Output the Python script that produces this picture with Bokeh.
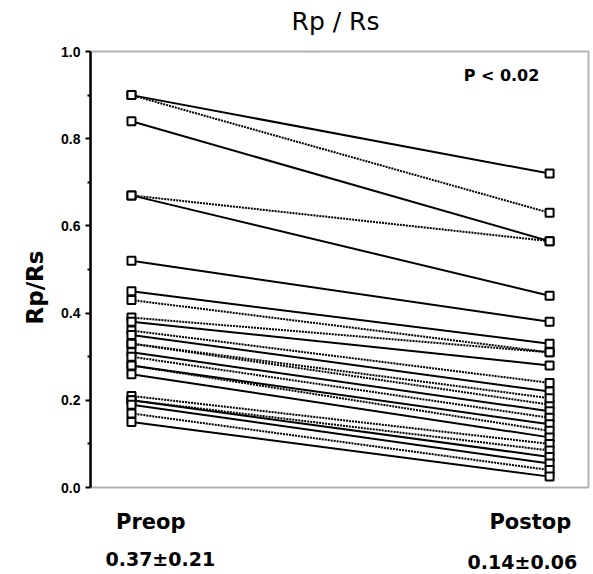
from bokeh.plotting import figure
from bokeh.models import Label, FixedTicker, ColumnDataSource, Range1d, BoxAnnotation
from bokeh.embed import file_html
from bokeh.resources import INLINE

# Paired values (Preop -> Postop)
pre = [0.90, 0.90, 0.84, 0.67, 0.67, 0.52, 0.45, 0.43, 0.39, 0.38, 0.36, 0.35, 0.33,
       0.33, 0.31, 0.30, 0.28, 0.28, 0.26, 0.21, 0.20, 0.20, 0.19, 0.17, 0.15]
post = [0.72, 0.63, 0.565, 0.565, 0.44, 0.38, 0.33, 0.31, 0.31, 0.28, 0.24, 0.22, 0.19,
        0.205, 0.175, 0.16, 0.145, 0.13, 0.115, 0.10, 0.085, 0.07, 0.055, 0.04, 0.025]
dotted = [False, True, False, True, False, False, False, True, True, False, True, False, True,
          True, False, True, False, True, False, True, True, False, False, True, False]
groups = ["Preop", "Postop"]
group_stats = ["0.37\u00b10.21", "0.14\u00b10.06"]
y_ticks = [0.0, 0.2, 0.4, 0.6, 0.8, 1.0]
y_minor = [0.1, 0.3, 0.5, 0.7, 0.9]
title_text = "Rp / Rs"
y_label = "Rp/Rs"
p_text = "P < 0.02"

FONT = "Liberation Sans"
WIDE = "DejaVu Sans"

# frame spans the whole canvas right of the y axis; y axis drawn only over 0..1
p = figure(width=593, height=574, output_backend="svg", toolbar_location=None,
           x_range=Range1d(-0.098, 1.105), y_range=Range1d(-0.1995, 1.117),
           min_border_left=90, min_border_right=0, min_border_top=0, min_border_bottom=0)
p.title.visible = False
p.xgrid.visible = False
p.ygrid.visible = False
p.xaxis.visible = False
p.background_fill_color = "white"
p.border_fill_color = "white"
p.outline_line_color = None

ya = p.yaxis[0]
ya.bounds = (0, 1)
ya.ticker = FixedTicker(ticks=y_ticks, minor_ticks=y_minor)
ya.axis_line_width = 2.5
ya.axis_line_color = "black"
ya.major_tick_in = 0
ya.major_tick_out = 5
ya.major_tick_line_width = 2
ya.minor_tick_in = 0
ya.minor_tick_out = 3
ya.minor_tick_line_width = 2
ya.major_label_text_font = FONT
ya.major_label_text_font_style = "bold"
ya.major_label_text_font_size = "14px"
ya.major_label_text_color = "black"
ya.major_label_overrides = {t: f"{t:.1f}" for t in y_ticks}
ya.axis_label = y_label
ya.axis_label_text_font = WIDE
ya.axis_label_text_font_style = "bold"
ya.axis_label_text_font_size = "23px"
ya.axis_label_text_color = "black"
ya.axis_label_standoff = 10

# plot box
p.add_layout(BoxAnnotation(left=-0.098, right=1.093, bottom=0, top=1, fill_alpha=0,
                           line_color="black", line_width=2))

sol = [i for i, d in enumerate(dotted) if not d]
dot = [i for i, d in enumerate(dotted) if d]
src_sol = ColumnDataSource(dict(x0=[0.0] * len(sol), x1=[1.0] * len(sol),
                                y0=[pre[i] for i in sol], y1=[post[i] for i in sol]))
src_dot = ColumnDataSource(dict(x0=[0.0] * len(dot), x1=[1.0] * len(dot),
                                y0=[pre[i] for i in dot], y1=[post[i] for i in dot]))
p.segment("x0", "y0", "x1", "y1", source=src_sol, line_color="black", line_width=2)
p.segment("x0", "y0", "x1", "y1", source=src_dot, line_color="black", line_width=2,
          line_dash="2 1")

p.scatter(x=[0.0] * len(pre), y=pre, marker="square", size=8, fill_color="white",
          line_color="black", line_width=2)
p.scatter(x=[1.0] * len(post), y=post, marker="square", size=8, fill_color="white",
          line_color="black", line_width=2)

def lab(x, y, t, size, bold=True, font=WIDE):
    p.add_layout(Label(x=x, y=y, text=t, text_font=font, text_font_size=size,
                       text_font_style="bold" if bold else "normal",
                       text_align="center", text_baseline="middle", text_color="black"))

lab(0.488, 1.068, title_text, "25px", bold=False)
lab(0.885, 0.945, p_text, "16px")
lab(0.046, -0.080, groups[0], "21px")
lab(0.954, -0.080, groups[1], "21px")
lab(0.069, -0.163, group_stats[0], "19px")
lab(0.935, -0.170, group_stats[1], "19px")

open("out.html", "w").write(file_html(p, INLINE))
